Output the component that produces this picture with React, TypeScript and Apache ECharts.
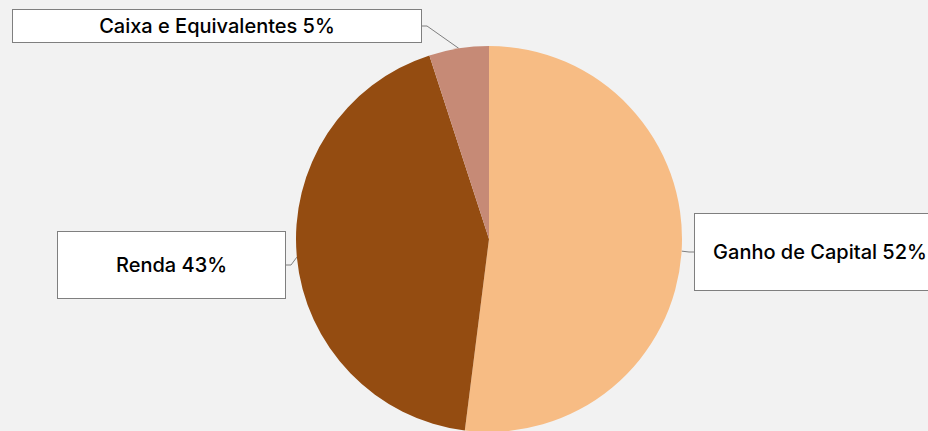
import React, { useEffect, useRef } from "react";
import * as echarts from "echarts";

const categories = ["Ganho de Capital", "Renda", "Caixa e Equivalentes"];
const values = [52, 43, 5];
const colors = ["#F7BC84", "#944C11", "#C68A76"];

// label box layout (center x, center y, width, height)
const labelBoxes = [
  { cx: 820, cy: 252, w: 250, h: 76 },
  { cx: 171.5, cy: 265, w: 227, h: 66 },
  { cx: 217, cy: 26, w: 408, h: 32 },
];

export default function App() {
  const ref = useRef<HTMLDivElement>(null);
  useEffect(() => {
    document.body.style.margin = "0";
    document.body.style.background = "#F2F2F2";
    const chart = echarts.init(ref.current!, null, { renderer: "svg" });
    chart.setOption({
      animation: false,
      backgroundColor: "#F2F2F2",
      series: [
        {
          type: "pie",
          center: [489, 239],
          radius: 193,
          startAngle: 90,
          clockwise: true,
          percentPrecision: 0,
          avoidLabelOverlap: false,
          data: categories.map((name, i) => ({
            name,
            value: values[i],
            itemStyle: { color: colors[i] },
            label: {
              width: labelBoxes[i].w,
              height: labelBoxes[i].h,
              lineHeight: labelBoxes[i].h,
            },
          })),
          label: {
            show: true,
            position: "outside",
            formatter: "{b} {d}%",
            fontSize: 20,
            fontWeight: 500,
            fontFamily: "Inter",
            color: "#000",
            backgroundColor: "#fff",
            borderColor: "#7F7F7F",
            borderWidth: 1,
            padding: 0,
            align: "center",
          },
          labelLine: {
            show: true,
            length: 5,
            length2: 5,
            lineStyle: { color: "#7F7F7F", width: 1 },
          },
          labelLayout: (params: any) => {
            const b = labelBoxes[params.dataIndex];
            return {
              x: b.cx,
              y: b.cy,
              align: "center",
              verticalAlign: "middle",
            };
          },
        },
      ],
    });
    return () => chart.dispose();
  }, []);
  return <div ref={ref} style={{ width: 928, height: 431 }} />;
}
